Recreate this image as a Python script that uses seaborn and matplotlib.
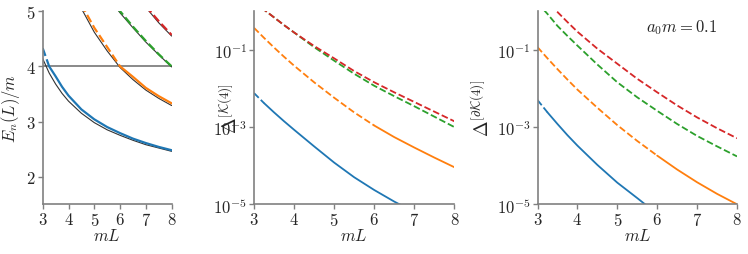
import matplotlib
matplotlib.use('Agg')
import matplotlib.pyplot as plt
import numpy as np
import pandas as pd
import seaborn as sns

# mL grid shared by every curve
mL = [3.0, 3.25, 3.5, 3.75, 4.0, 4.5, 5.0, 5.5, 6.0, 6.5, 7.0, 7.5, 8.0]
nan = np.nan

# left panel: E_n(L)/m, coloured = interacting, black = reference levels
# (nan = above the top of the plot)
E_blue   = [4.33, 4.00, 3.82, 3.63, 3.47, 3.22, 3.04, 2.90, 2.79, 2.69, 2.61, 2.54, 2.48]
E_orange = [nan, nan, nan, nan, nan, 5.12, 4.70, 4.35, 4.00, 3.81, 3.61, 3.46, 3.33]
E_green  = [nan, nan, nan, nan, nan, nan, nan, 5.30, 5.00, 4.72, 4.46, 4.22, 4.00]
E_red    = [nan, nan, nan, nan, nan, nan, nan, nan, nan, nan, 5.09, 4.82, 4.57]

B_blue   = [4.14, 3.88, 3.68, 3.51, 3.37, 3.15, 2.98, 2.85, 2.75, 2.66, 2.58, 2.52, 2.46]
B_orange = [nan, nan, nan, nan, nan, 5.05, 4.62, 4.28, 3.98, 3.76, 3.57, 3.42, 3.29]
B_green  = [nan, nan, nan, nan, nan, nan, nan, 5.28, 4.97, 4.70, 4.44, 4.21, 3.99]
B_red    = [nan, nan, nan, nan, nan, nan, nan, nan, nan, nan, 5.07, 4.79, 4.55]

# middle panel: log10 Delta^[K(4)]
K_blue   = [-2.12, -2.38, -2.62, -2.85, -3.07, -3.50, -3.92, -4.30, -4.63, -4.93, -5.20, nan, nan]
K_orange = [-0.43, -0.69, -0.94, -1.18, -1.41, -1.84, -2.24, -2.62, -2.96, -3.26, -3.53, -3.79, -4.04]
K_green  = [0.25, 0.04, -0.16, -0.36, -0.55, -0.93, -1.28, -1.62, -1.93, -2.20, -2.46, -2.73, -3.00]
K_red    = [0.25, 0.04, -0.16, -0.36, -0.55, -0.90, -1.22, -1.55, -1.84, -2.10, -2.35, -2.60, -2.85]

# right panel: log10 Delta^[dK(4)]
dK_blue   = [-2.30, -2.62, -2.92, -3.21, -3.48, -3.98, -4.44, -4.84, -5.25, nan, nan, nan, nan]
dK_orange = [-0.93, -1.22, -1.50, -1.77, -2.03, -2.50, -2.95, -3.36, -3.74, -4.10, -4.43, -4.73, -5.00]
dK_green  = [0.22, -0.07, -0.38, -0.64, -0.89, -1.38, -1.84, -2.23, -2.58, -2.92, -3.23, -3.50, -3.76]
dK_red    = [0.45, 0.20, -0.02, -0.28, -0.53, -0.97, -1.36, -1.75, -2.10, -2.44, -2.75, -3.03, -3.29]

levels = ['blue', 'orange', 'green', 'red']
E_col  = [E_blue, E_orange, E_green, E_red]
E_blk  = [B_blue, B_orange, B_green, B_red]
K_log  = [K_blue, K_orange, K_green, K_red]
dK_log = [dK_blue, dK_orange, dK_green, dK_red]

threshold = 4.0

sns.set_style('ticks')
plt.rcParams['font.family'] = 'serif'
plt.rcParams['font.serif'] = ['cmr10']
plt.rcParams['mathtext.fontset'] = 'cm'
plt.rcParams['axes.formatter.use_mathtext'] = True
plt.rcParams['axes.edgecolor'] = '0.5'
plt.rcParams['axes.linewidth'] = 1.2
plt.rcParams['xtick.color'] = '0.5'
plt.rcParams['ytick.color'] = '0.5'
plt.rcParams['xtick.labelcolor'] = '0.15'
plt.rcParams['ytick.labelcolor'] = '0.15'

pal = sns.color_palette('tab10', 4)

fig = plt.figure(figsize=(7.48, 2.55), dpi=100)
ax1 = fig.add_axes([0.0571, 0.195, 0.1724, 0.757])
ax2 = fig.add_axes([0.3396, 0.195, 0.2678, 0.757])
ax3 = fig.add_axes([0.7186, 0.195, 0.2667, 0.757])


def draw(ax, y, energy, color, lw=1.5):
    # dashed above the 4m threshold (from the left panel), solid below
    e = np.nan_to_num(np.array(energy, dtype=float), nan=99.0)
    df = pd.DataFrame({'mL': mL, 'y': y, 'E': e}).dropna()
    above = df[df['E'] >= threshold]
    below = df[df['E'] <= threshold]
    if len(above) > 1:
        sns.lineplot(data=above, x='mL', y='y', ax=ax, color=color, lw=lw, ls='--', errorbar=None)
    if len(below) > 1:
        sns.lineplot(data=below, x='mL', y='y', ax=ax, color=color, lw=lw, ls='-', errorbar=None)


# left panel
ax1.axhline(threshold, color='0.5', lw=1.3, zorder=1)
for i, name in enumerate(levels):
    sns.lineplot(x=mL, y=E_blk[i], ax=ax1, color='0.2', lw=0.8, errorbar=None)
    draw(ax1, E_col[i], E_col[i], pal[i], lw=1.6)
ax1.set_xlim(3, 8)
ax1.set_ylim(1.5, 5)
ax1.set_yticks([2, 3, 4, 5])
ax1.set_ylabel('$E_n(L)/m$', fontsize=12)

# middle / right panels
for ax, data in [(ax2, K_log), (ax3, dK_log)]:
    for i, name in enumerate(levels):
        vals = [10 ** v for v in data[i]]
        draw(ax, vals, E_col[i], pal[i], lw=1.3)
    ax.set_yscale('log')
    ax.set_xlim(3, 8)
    ax.set_ylim(1e-5, 1)
    ax.set_yticks([1e-5, 1e-3, 1e-1])
    ax.minorticks_off()

ax2.set_ylabel(r'$\Delta^{[\mathcal{K}(4)]}$', fontsize=13.5)
ax3.set_ylabel(r'$\Delta^{[\partial\mathcal{K}(4)]}$', fontsize=13.5)
ax3.text(0.72, 0.92, '$a_0m = 0.1$', transform=ax3.transAxes, fontsize=12,
         ha='center', va='center', color='0.15')

for ax in [ax1, ax2, ax3]:
    ax.set_xticks([3, 4, 5, 6, 7, 8])
    ax.set_xlabel('$mL$', fontsize=12, labelpad=-1)
    ax.tick_params(labelsize=12, length=3.5, width=1.0, pad=1.5)
    ax.grid(False)
    sns.despine(ax=ax)

ax1.yaxis.set_label_coords(-0.16, 0.5)
ax2.yaxis.set_label_coords(-0.065, 0.5)
ax3.yaxis.set_label_coords(-0.225, 0.5)

fig.savefig('out.png', dpi=100)
